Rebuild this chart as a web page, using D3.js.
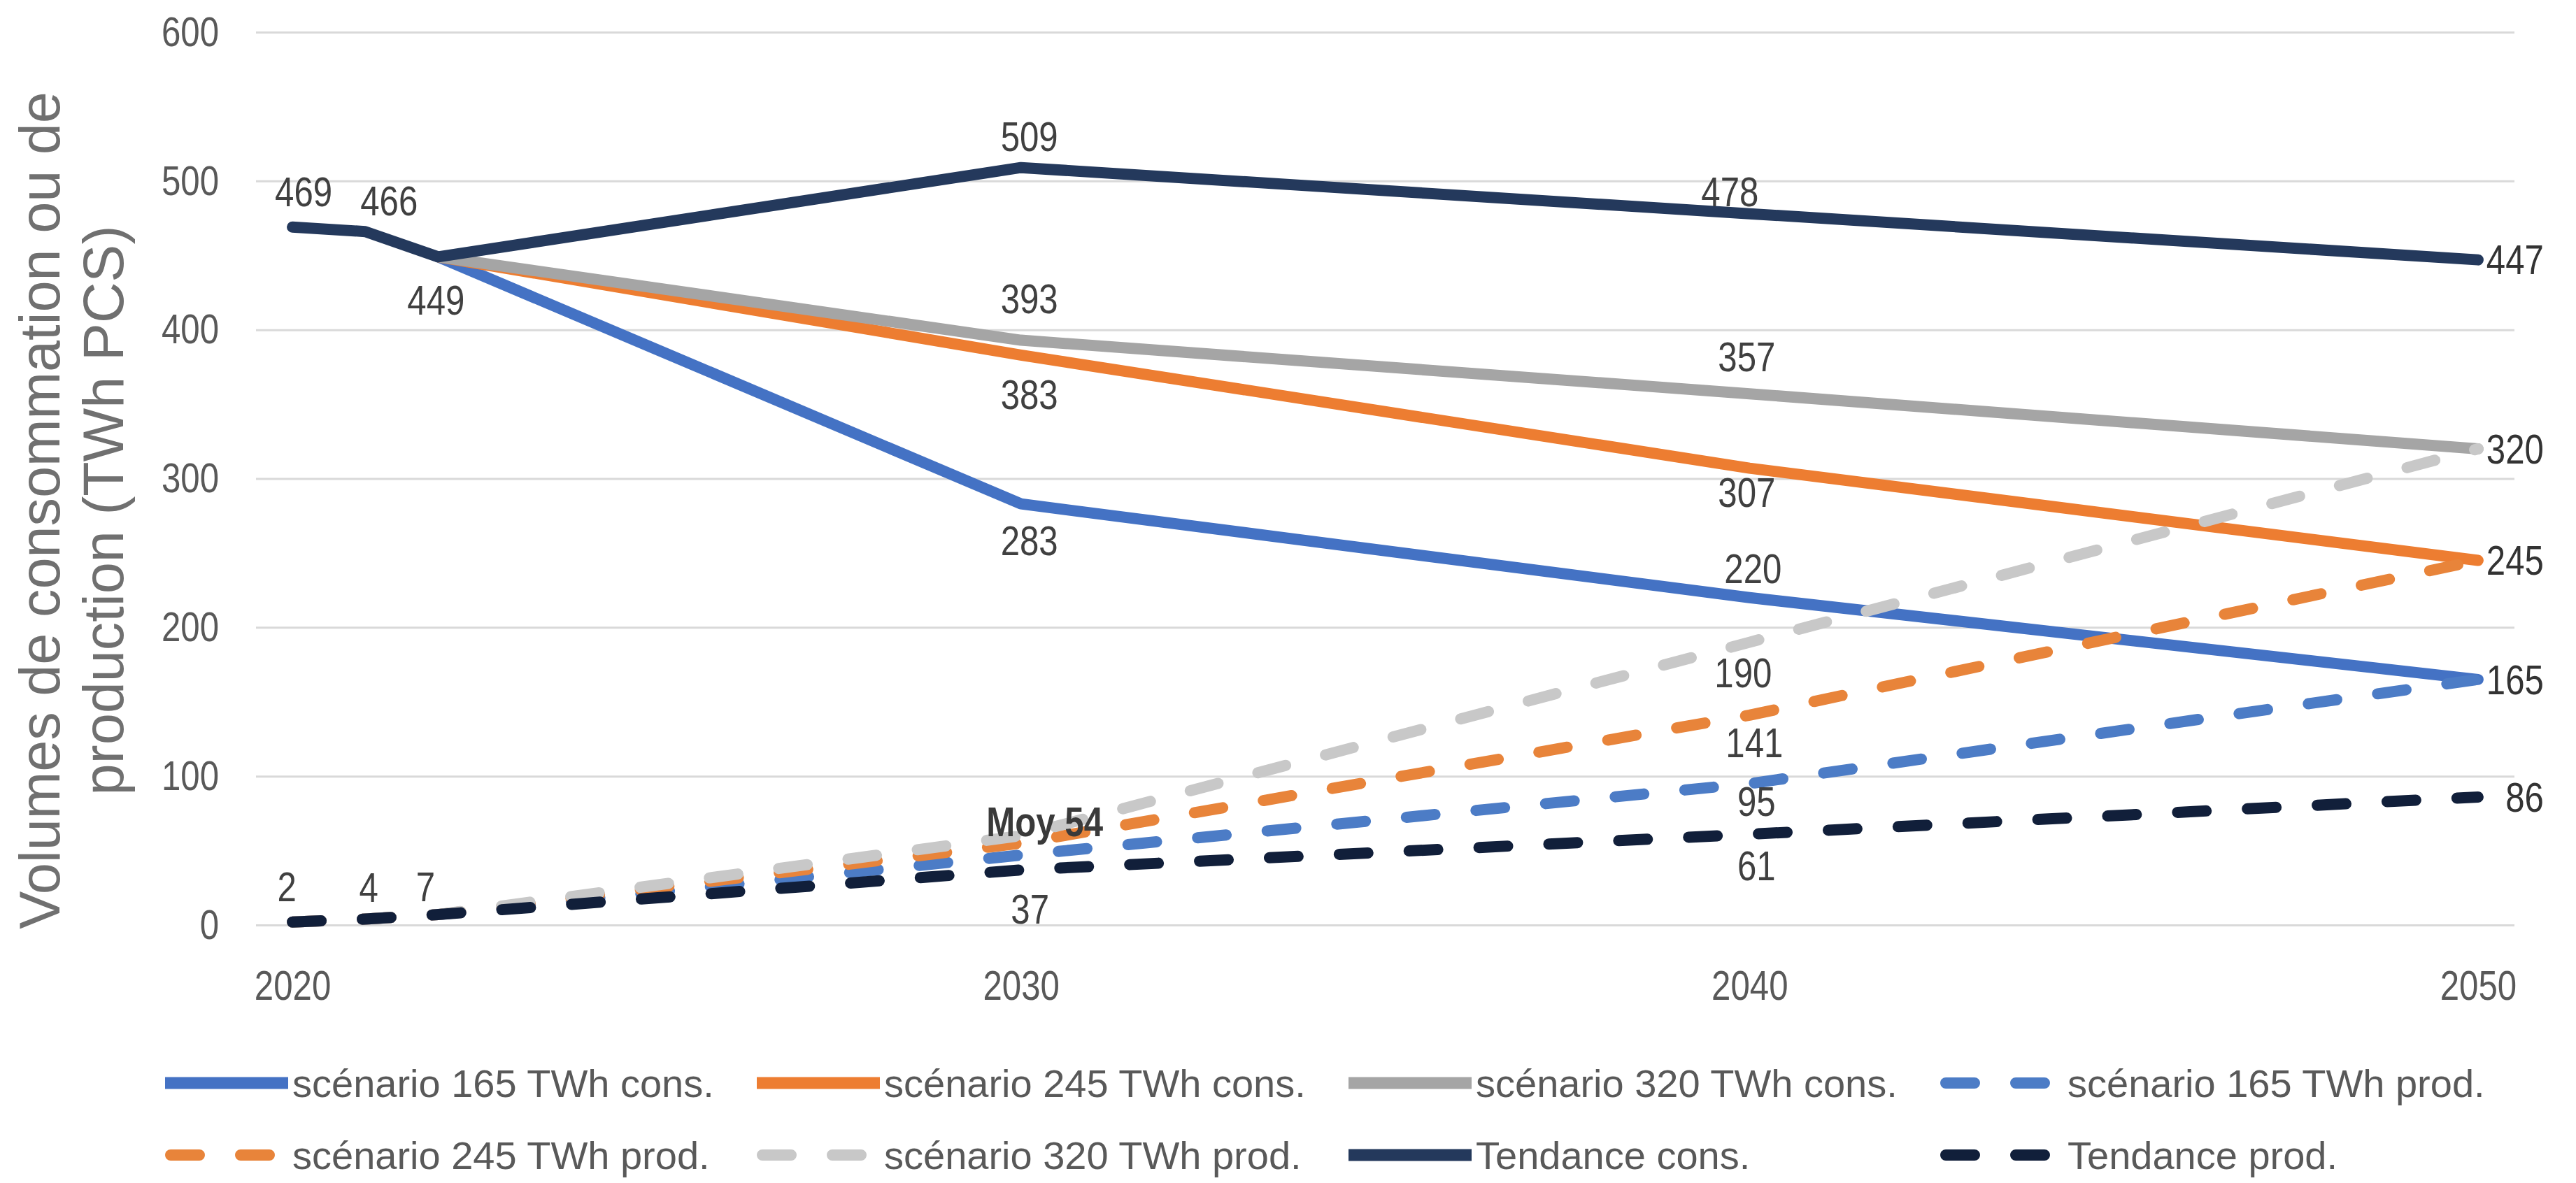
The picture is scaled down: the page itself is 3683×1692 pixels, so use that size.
<!DOCTYPE html>
<html><head><meta charset="utf-8">
<script src="https://cdn.jsdelivr.net/npm/d3@7/dist/d3.min.js"></script>
<style>html,body{margin:0;padding:0;background:#fff;overflow:hidden}</style>
</head><body><svg id="chart"></svg>
<script>
// ---------- DATA ----------
const years = d3.range(2020, 2051);               // category axis (one per year)
const xTickLabels = [2020, 2030, 2040, 2050];
const yTicks = [0, 100, 200, 300, 400, 500, 600];

const scenConsYears = [2022, 2030, 2040, 2050];
const scen165Cons = [449, 283, 220, 165];
const scen245Cons = [449, 383, 307, 245];
const scen320Cons = [449, 393, 357, 320];

const prodYears = [2020, 2021, 2022, 2030, 2040, 2050];
const scen165Prod = [2, 4, 7, 47, 95, 165];
const scen245Prod = [2, 4, 7, 55, 141, 245];
const scen320Prod = [2, 4, 7, 60, 190, 320];

const trendYears = [2020, 2021, 2022, 2030, 2040, 2050];
const trendCons = [469, 466, 449, 509, 478, 447];
const trendProd = [2, 4, 7, 37, 61, 86];

const seriesNames = ["scénario 165 TWh cons.", "scénario 245 TWh cons.", "scénario 320 TWh cons.",
  "scénario 165 TWh prod.", "scénario 245 TWh prod.", "scénario 320 TWh prod.",
  "Tendance cons.", "Tendance prod."];

// ---------- STYLE / LAYOUT ----------
const W = 3683, H = 1692;
const plot = {left: 366, right: 3595, top: 46, bottom: 1323};
const regular = "'Liberation Sans',Arial,sans-serif";
const NARROW = 0.82;   // horizontal condensing of numeric labels

const series = [
  {key: "s165c", years: scenConsYears, values: scen165Cons, color: "#4472C4", dashed: false},
  {key: "s245c", years: scenConsYears, values: scen245Cons, color: "#ED7D31", dashed: false},
  {key: "s320c", years: scenConsYears, values: scen320Cons, color: "#A5A5A5", dashed: false},
  {key: "s165p", years: prodYears, values: scen165Prod, color: "#4C7CC6", dashed: true},
  {key: "s245p", years: prodYears, values: scen245Prod, color: "#E8843A", dashed: true},
  {key: "s320p", years: prodYears, values: scen320Prod, color: "#C8C8C8", dashed: true},
  {key: "tc", years: trendYears, values: trendCons, color: "#24395C", dashed: false},
  {key: "tp", years: trendYears, values: trendProd, color: "#111F3A", dashed: true}
];
series.forEach((s, i) => s.name = seriesNames[i]);

// label placement: [series, year, dx, dy] (dy = offset of label centre from point); "R" = right of point
const labelPlacement = [
  ["tc", 2020, 16, -51], ["tc", 2021, 34, -44], ["tc", 2022, -3, 62], ["tc", 2030, 12, -44], ["tc", 2040, -28, -31], ["tc", 2050, "R"],
  ["s320c", 2030, 12, -59], ["s320c", 2040, -4, -53], ["s320c", 2050, "R"],
  ["s245c", 2030, 12, 56], ["s245c", 2040, -4, 35], ["s245c", 2050, "R"],
  ["s165c", 2030, 12, 53], ["s165c", 2040, 5, -42], ["s165c", 2050, "R"],
  ["s320p", 2040, -9, 44], ["s245p", 2040, 7, 39], ["s165p", 2040, 10, 25],
  ["tp", 2020, -8, -51], ["tp", 2021, 5, -45], ["tp", 2022, -18, -40], ["tp", 2030, 13, 56], ["tp", 2040, 10, 45], ["tp", 2050, "R"]
];

// ---------- CHART ----------
const svg = d3.select("#chart").attr("width", W).attr("height", H);
svg.append("rect").attr("width", W).attr("height", H).attr("fill", "#fff");

const x = d3.scalePoint().domain(years).range([plot.left, plot.right]).padding(0.5);
const y = d3.scaleLinear().domain([0, 600]).range([plot.bottom, plot.top]);

// gridlines + y axis labels via axis
const yAxis = d3.axisLeft(y).tickValues(yTicks).tickSize(-(plot.right - plot.left)).tickPadding(53);
const gy = svg.append("g").attr("transform", `translate(${plot.left},0)`).call(yAxis);
gy.select(".domain").remove();
gy.selectAll(".tick line").attr("stroke", "#D9D9D9").attr("stroke-width", 3);
gy.selectAll(".tick text").attr("fill", "#595959").style("font-family", regular).style("font-size", "60px")
  .attr("x", 0).attr("transform", `translate(-53,0) scale(${NARROW},1)`);

// x axis labels
const xAxis = d3.axisBottom(x).tickValues(xTickLabels).tickSize(0).tickPadding(64);
const gx = svg.append("g").attr("transform", `translate(0,${plot.bottom})`).call(xAxis);
gx.select(".domain").remove();
gx.selectAll(".tick text").attr("fill", "#595959").style("font-family", regular).style("font-size", "60px")
  .attr("transform", `scale(${NARROW},1)`);

// lines
const line = d3.line().x(d => x(d[0])).y(d => y(d[1]));
series.forEach(s => {
  const pts = s.years.map((yr, i) => [yr, s.values[i]]);
  svg.append("path").datum(pts)
    .attr("d", line)
    .attr("fill", "none")
    .attr("stroke", s.color)
    .attr("stroke-width", 16)
    .attr("stroke-linejoin", "round")
    .attr("stroke-linecap", "round")
    .attr("stroke-dasharray", s.dashed ? "41 59" : null);
});

// data labels
const byKey = Object.fromEntries(series.map(s => [s.key, s]));
const gl = svg.append("g").style("font-family", regular).style("font-size", "60px").attr("fill", "#404040");
function label(txt, lx, ly, anchor) {
  return gl.append("text").text(txt)
    .attr("transform", `translate(${lx},${ly}) scale(${NARROW},1)`)
    .attr("text-anchor", anchor).attr("dominant-baseline", "central");
}
labelPlacement.forEach(p => {
  const s = byKey[p[0]];
  const v = s.values[s.years.indexOf(p[1])];
  const px = x(p[1]), py = y(v);
  if (p[2] === "R") {
    label(String(v), px + 94, py, "end").attr("fill", "#333");
  } else {
    label(String(v), px + p[2], py + p[3], "middle");
  }
});

// "Moy" annotation: mean of the three scenario productions in 2030
const idx2030 = prodYears.indexOf(2030);
const moy = Math.round(d3.mean([scen165Prod[idx2030], scen245Prod[idx2030], scen320Prod[idx2030]]));
label("Moy " + moy, x(2030) + 34, y(scen245Prod[idx2030]) - 31, "middle")
  .attr("font-weight", "bold").attr("fill", "#3a3a3a");

// y axis title
const title = svg.append("text").attr("transform", "translate(0,730) rotate(-90)")
  .attr("text-anchor", "middle").attr("fill", "#707070")
  .style("font-family", regular).style("font-size", "81px");
title.append("tspan").attr("x", 0).attr("y", 85).text("Volumes de consommation ou de");
title.append("tspan").attr("x", 0).attr("y", 176).text("production (TWh PCS)");

// legend
const legendRows = [1549, 1652];
const legend = svg.append("g");
series.forEach((s, i) => {
  const col = i % 4, row = Math.floor(i / 4);
  const lx = 236 + col * 846, ly = legendRows[row];
  const g = legend.append("g").attr("transform", `translate(${lx},${ly})`);
  if (s.dashed) {
    g.append("line").attr("x1", 8).attr("x2", 168).attr("y1", 0).attr("y2", 0)
      .attr("stroke", s.color).attr("stroke-width", 16).attr("stroke-linecap", "round")
      .attr("stroke-dasharray", "41 59");
  } else {
    g.append("line").attr("x1", 0).attr("x2", 176).attr("y1", 0).attr("y2", 0)
      .attr("stroke", s.color).attr("stroke-width", 17);
  }
  g.append("text").attr("x", 182).attr("y", 0).attr("dominant-baseline", "central")
    .attr("fill", "#595959").style("font-family", regular).style("font-size", "56px")
    .text(s.name);
});
</script></body></html>
